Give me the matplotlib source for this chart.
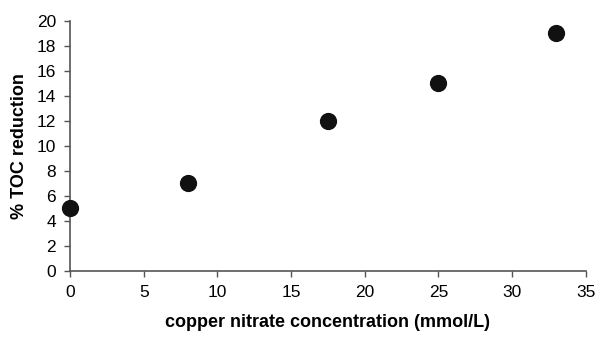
import matplotlib.pyplot as plt

plt.rcParams['font.family'] = ['Liberation Sans', 'DejaVu Sans']

conc = [0, 8, 17.5, 25, 33]
toc_red = [5, 7, 12, 15, 19]
xticks = [0, 5, 10, 15, 20, 25, 30, 35]
yticks = [0, 2, 4, 6, 8, 10, 12, 14, 16, 18, 20]

fig = plt.figure(figsize=(5.99, 3.37), dpi=100)
ax = fig.add_axes([0.1169, 0.196, 0.978 - 0.1169, 0.938 - 0.196])

ax.scatter(conc, toc_red, s=130, color='#111111', zorder=3, clip_on=False)

ax.set_xlim(0, 35)
ax.set_ylim(0, 20)
ax.set_xticks(xticks)
ax.set_yticks(yticks)
ax.tick_params(labelsize=12.5, length=4, width=1, color='#555555', pad=6)

for s in ['top', 'right']:
    ax.spines[s].set_visible(False)
for s in ['left', 'bottom']:
    ax.spines[s].set_color('#555555')
    ax.spines[s].set_linewidth(1.2)

ax.set_xlabel('copper nitrate concentration (mmol/L)', fontsize=13, fontweight='bold', labelpad=10)
ax.set_ylabel('% TOC reduction', fontsize=13, fontweight='bold', labelpad=6)

fig.savefig('out.png', dpi=100)
